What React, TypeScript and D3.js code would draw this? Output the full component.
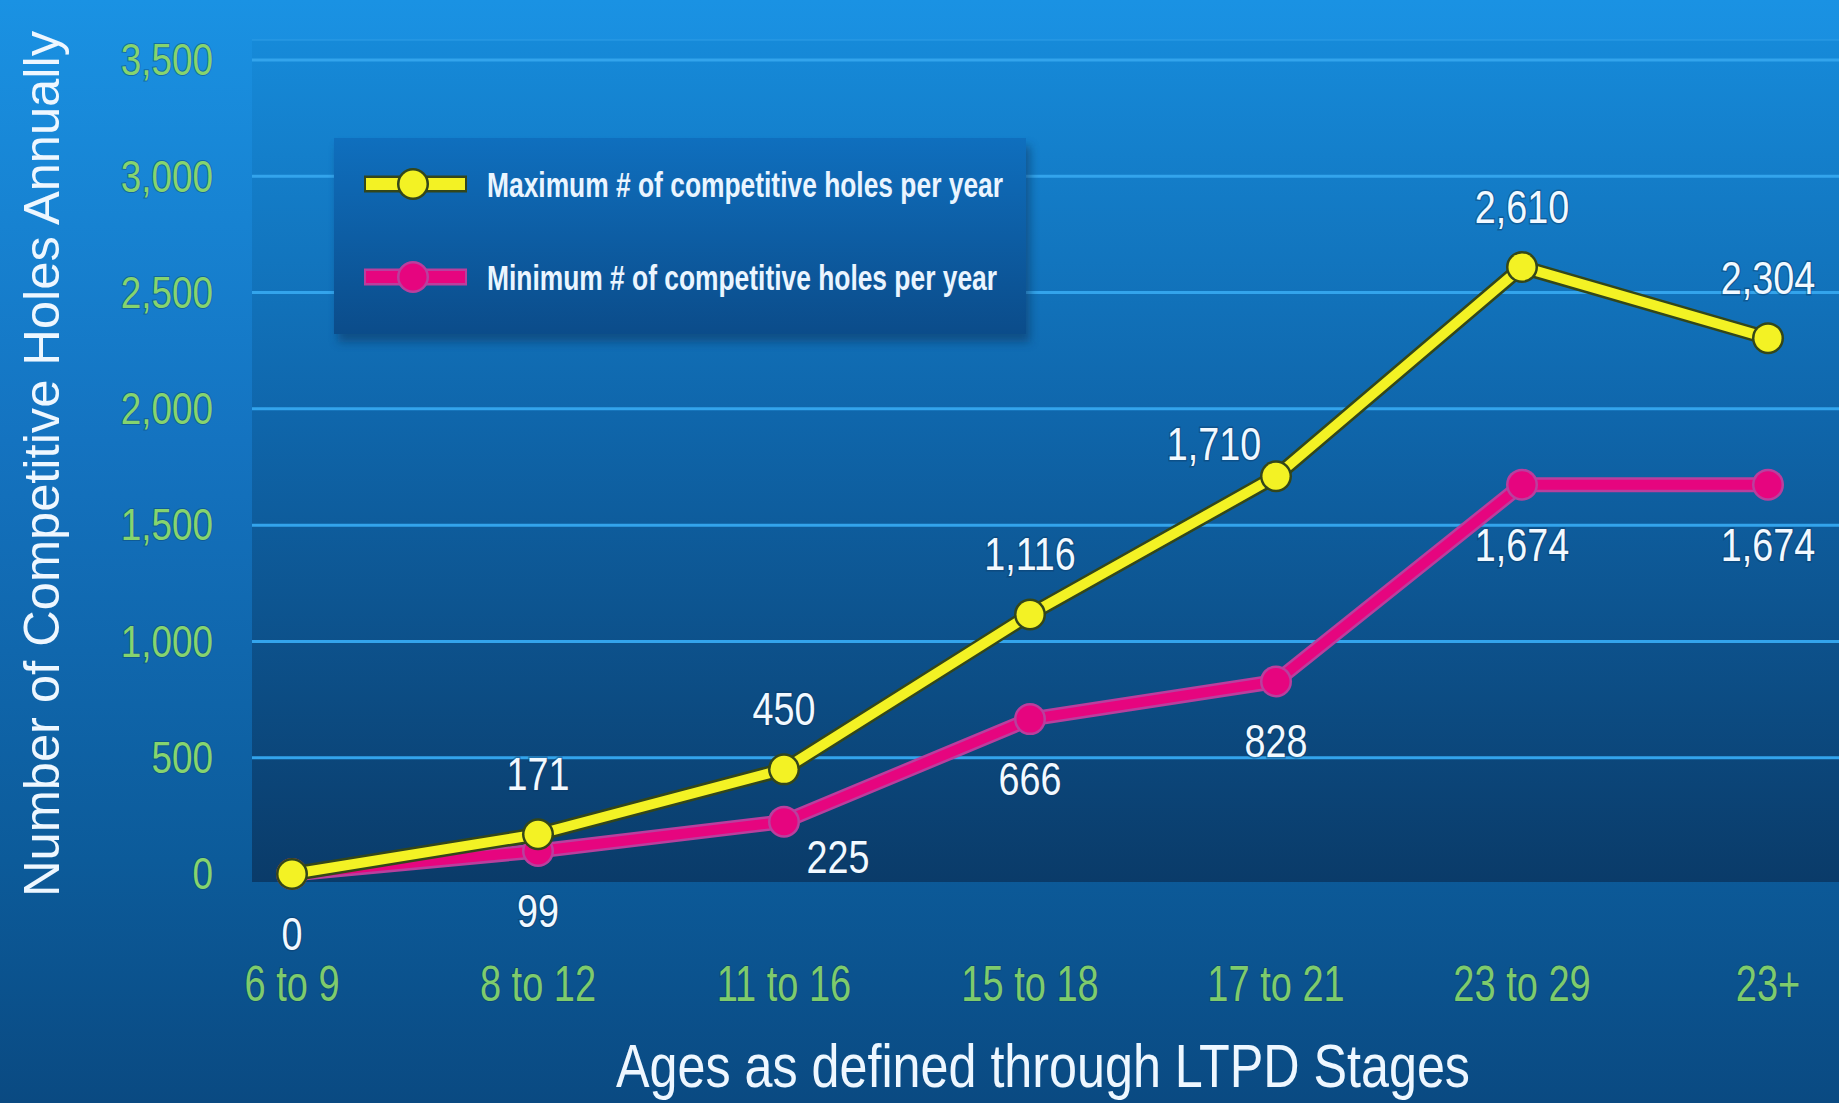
import { useEffect, useRef } from 'react';
import * as d3 from 'd3';

// Ages as defined through LTPD stages, with annual competitive holes.
const ageGroups = ['6 to 9', '8 to 12', '11 to 16', '15 to 18', '17 to 21', '23 to 29', '23+'];
const maxHoles = [0, 171, 450, 1116, 1710, 2610, 2304];
const minHoles = [0, 99, 225, 666, 828, 1674, 1674];
const yTicks = [0, 500, 1000, 1500, 2000, 2500, 3000, 3500];
const seriesNames = ['Maximum # of competitive holes per year', 'Minimum # of competitive holes per year'];
// which side of the point each value label sits on
const maxLabelSide = ['below', 'above', 'above', 'above', 'left', 'above', 'above'];
const minLabelSide = ['none', 'below', 'right', 'below', 'below', 'below', 'below'];

const W = 1839;
const H = 1103;
const FONT = "'Liberation Sans', Arial, sans-serif";

export default function App() {
  const ref = useRef<SVGSVGElement | null>(null);

  useEffect(() => {
    const svg = d3.select(ref.current);
    svg.selectAll('*').remove();
    svg.attr('viewBox', `0 0 ${W} ${H}`).attr('width', W).attr('height', H);

    const plot = { left: 252, right: W, top: 40, bottom: 882 };
    const x = d3.scalePoint<string>().domain(ageGroups).range([292, 1768]);
    const y = d3.scaleLinear().domain([0, 3500]).range([874, 60]);

    const defs = svg.append('defs');
    const grad = (id: string, stops: [number, string][]) => {
      const g = defs.append('linearGradient').attr('id', id).attr('x1', 0).attr('x2', 0).attr('y1', 0).attr('y2', 1);
      stops.forEach(([o, c]) => g.append('stop').attr('offset', o).attr('stop-color', c));
    };
    grad('bg', [[0, '#1a92e3'], [0.4, '#1473c0'], [0.78, '#0c5b9a'], [1, '#0a4a82']]);
    grad('plotbg', [[0, '#168ad9'], [0.45, '#0f66ab'], [1, '#0a3b69']]);
    grad('legbg', [[0, '#0f6fbe'], [1, '#0b4c8a']]);
    defs.append('filter').attr('id', 'blur').append('feGaussianBlur').attr('stdDeviation', 5);

    svg.append('rect').attr('width', W).attr('height', H).attr('fill', 'url(#bg)');
    svg.append('rect')
      .attr('x', plot.left).attr('y', plot.top)
      .attr('width', plot.right - plot.left).attr('height', plot.bottom - plot.top)
      .attr('fill', 'url(#plotbg)');
    svg.append('line')
      .attr('x1', plot.left).attr('x2', plot.right).attr('y1', plot.top).attr('y2', plot.top)
      .attr('stroke', '#2b9be6').attr('stroke-width', 2).attr('opacity', 0.6);

    // gridlines (not at zero)
    svg.append('g').selectAll('line')
      .data(yTicks.filter((t) => t > 0))
      .join('line')
      .attr('x1', plot.left).attr('x2', plot.right)
      .attr('y1', (d) => y(d)).attr('y2', (d) => y(d))
      .attr('stroke', '#33a4ec').attr('stroke-width', 3);

    const cond = (sx: number, px: number, py: number) => `translate(${px},${py}) scale(${sx},1)`;
    const fmt = d3.format(',');

    // y tick labels
    svg.append('g').selectAll('text')
      .data(yTicks)
      .join('text')
      .attr('transform', (d) => cond(0.82, 213, y(d)))
      .attr('text-anchor', 'end').attr('dominant-baseline', 'central')
      .attr('font-family', FONT).attr('font-size', 45)
      .attr('fill', '#86d46e')
      .attr('stroke', '#0d4a73').attr('stroke-width', 2).attr('stroke-opacity', 0.5).attr('paint-order', 'stroke')
      .text((d) => fmt(d));

    // x tick labels
    svg.append('g').selectAll('text')
      .data(ageGroups)
      .join('text')
      .attr('transform', (d) => cond(0.76, x(d) ?? 0, 984))
      .attr('text-anchor', 'middle').attr('dominant-baseline', 'central')
      .attr('font-family', FONT).attr('font-size', 50)
      .attr('fill', '#7ecb6c')
      .attr('stroke', '#0b3f69').attr('stroke-width', 2).attr('stroke-opacity', 0.5).attr('paint-order', 'stroke')
      .text((d) => d);

    // axis titles
    svg.append('text')
      .attr('x', 1043).attr('y', 1066)
      .attr('text-anchor', 'middle').attr('dominant-baseline', 'central')
      .attr('font-family', FONT).attr('font-size', 61)
      .attr('textLength', 854).attr('lengthAdjust', 'spacingAndGlyphs')
      .attr('fill', '#eef7ff')
      .text('Ages as defined through LTPD Stages');
    svg.append('text')
      .attr('transform', 'translate(42,464) rotate(-90)')
      .attr('text-anchor', 'middle').attr('dominant-baseline', 'central')
      .attr('font-family', FONT).attr('font-size', 50)
      .attr('textLength', 866).attr('lengthAdjust', 'spacingAndGlyphs')
      .attr('fill', '#eef7ff')
      .text('Number of Competitive Holes Annually');

    // legend box
    const leg = { x: 334, y: 138, w: 692, h: 196 };
    svg.append('rect')
      .attr('x', leg.x + 4).attr('y', leg.y + 8).attr('width', leg.w).attr('height', leg.h)
      .attr('fill', '#07355f').attr('opacity', 0.55).attr('filter', 'url(#blur)');
    svg.append('rect')
      .attr('x', leg.x).attr('y', leg.y).attr('width', leg.w).attr('height', leg.h)
      .attr('fill', 'url(#legbg)');

    const styles = [
      { under: '#33461a', core: '#f3f224', underW: 15, coreW: 10 },
      { under: '#b93f9e', core: '#e6057f', underW: 15, coreW: 10 },
    ];
    const legendRows = [184, 277];
    seriesNames.forEach((name, i) => {
      const s = styles[i];
      const g = svg.append('g');
      g.append('line').attr('x1', 364).attr('x2', 467).attr('y1', legendRows[i]).attr('y2', legendRows[i])
        .attr('stroke', s.under).attr('stroke-width', s.underW + 2);
      g.append('line').attr('x1', 366).attr('x2', 465).attr('y1', legendRows[i]).attr('y2', legendRows[i])
        .attr('stroke', s.core).attr('stroke-width', s.coreW + 2);
      g.append('circle').attr('cx', 413).attr('cy', legendRows[i]).attr('r', 16).attr('fill', s.under);
      g.append('circle').attr('cx', 413).attr('cy', legendRows[i]).attr('r', 13.5).attr('fill', s.core);
      g.append('text')
        .attr('x', 487).attr('y', legendRows[i])
        .attr('dominant-baseline', 'central')
        .attr('font-family', FONT).attr('font-size', 35).attr('font-weight', 'bold')
        .attr('textLength', i === 0 ? 516 : 510).attr('lengthAdjust', 'spacingAndGlyphs')
        .attr('fill', '#eaf5ff')
        .text(name);
    });

    // series lines, magenta under yellow
    const line = d3.line<number>().x((_, i) => x(ageGroups[i]) ?? 0).y((d) => y(d));
    const drawSeries = (vals: number[], s: (typeof styles)[number]) => {
      const g = svg.append('g');
      g.append('path').attr('d', line(vals)).attr('fill', 'none')
        .attr('stroke', s.under).attr('stroke-width', s.underW).attr('stroke-linejoin', 'round');
      g.append('path').attr('d', line(vals)).attr('fill', 'none')
        .attr('stroke', s.core).attr('stroke-width', s.coreW).attr('stroke-linejoin', 'round');
      g.selectAll('circle.o').data(vals).join('circle').attr('class', 'o')
        .attr('cx', (_, i) => x(ageGroups[i]) ?? 0).attr('cy', (d) => y(d)).attr('r', 16).attr('fill', s.under);
      g.selectAll('circle.i').data(vals).join('circle').attr('class', 'i')
        .attr('cx', (_, i) => x(ageGroups[i]) ?? 0).attr('cy', (d) => y(d)).attr('r', 13.5).attr('fill', s.core);
    };
    drawSeries(minHoles, styles[1]);
    drawSeries(maxHoles, styles[0]);

    // value labels
    const offsets: Record<string, [number, number]> = {
      above: [0, -60],
      below: [0, 60],
      left: [-62, -32],
      right: [54, 35],
    };
    const labels = (vals: number[], sides: string[]) => {
      const items = vals.map((v, i) => ({ v, i, side: sides[i] })).filter((d) => d.side !== 'none');
      svg.append('g').selectAll('text')
        .data(items)
        .join('text')
        .attr('transform', (d) => cond(0.82, (x(ageGroups[d.i]) ?? 0) + offsets[d.side][0], y(d.v) + offsets[d.side][1]))
        .attr('text-anchor', 'middle').attr('dominant-baseline', 'central')
        .attr('font-family', FONT).attr('font-size', 46)
        .attr('fill', '#f2f9ff')
        .attr('stroke', '#0b3a66').attr('stroke-width', 3).attr('stroke-opacity', 0.45).attr('paint-order', 'stroke')
        .text((d) => fmt(d.v));
    };
    labels(maxHoles, maxLabelSide);
    labels(minHoles, minLabelSide);
  }, []);

  return <svg ref={ref} style={{ position: 'absolute', left: 0, top: 0, display: 'block' }} />;
}
